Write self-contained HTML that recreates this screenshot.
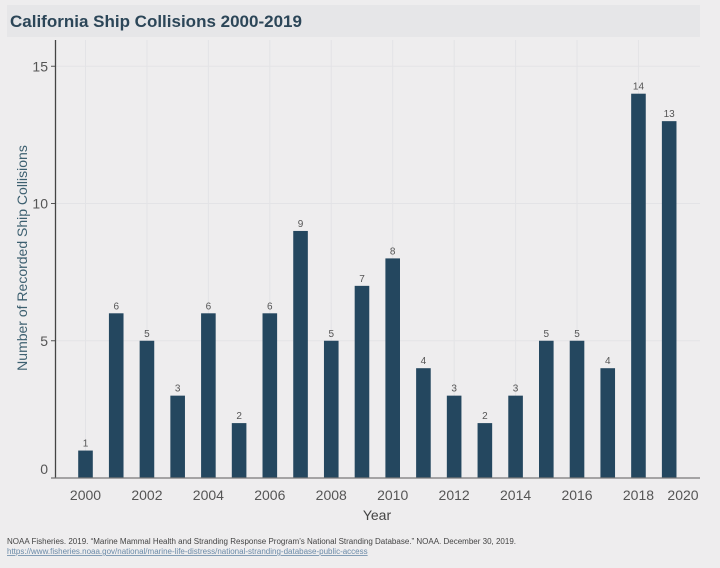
<!DOCTYPE html>
<html><head><meta charset="utf-8"><style>
html,body{margin:0;padding:0;background:#eeedee;}
svg{display:block;font-family:"Liberation Sans",sans-serif;}
</style></head><body>
<svg id="chart" width="720" height="568">
<rect x="0" y="0" width="720" height="568" fill="#eeedee"/>
<rect x="7" y="5" width="693" height="32" fill="#e6e6e8"/>
<text x="10" y="27" font-size="17" font-weight="bold" fill="#2c4658">California Ship Collisions 2000-2019</text>
<g id="grid"></g><g id="bars"></g><g id="axes"></g>
<text transform="translate(27,258) rotate(-90)" text-anchor="middle" font-size="14" fill="#3d6070">Number of Recorded Ship Collisions</text>
<text x="377" y="520" text-anchor="middle" font-size="14" fill="#444">Year</text>
<text x="7" y="544" font-size="8" fill="#444">NOAA Fisheries. 2019. “Marine Mammal Health and Stranding Response Program’s National Stranding Database.” NOAA. December 30, 2019.</text>
<text x="7" y="554" font-size="8" fill="#6a8aa8" text-decoration="underline">https://www.fisheries.noaa.gov/national/marine-life-distress/national-stranding-database-public-access</text>
</svg>
<script>
const years=[2000,2001,2002,2003,2004,2005,2006,2007,2008,2009,2010,2011,2012,2013,2014,2015,2016,2017,2018,2019];
const counts=[1,6,5,3,6,2,6,9,5,7,8,4,3,2,3,5,5,4,14,13];
const yTicks=[0,5,10,15];
const xTicks=[2000,2002,2004,2006,2008,2010,2012,2014,2016,2018,2020];
const NS="http://www.w3.org/2000/svg";
const x=v=>85.5+(v-2000)*30.72;
const y=v=>478-v*27.45;
function mk(tag,attrs,parent,txt){const e=document.createElementNS(NS,tag);for(const k in attrs)e.setAttribute(k,attrs[k]);if(txt!==undefined)e.textContent=txt;parent.appendChild(e);return e;}
const grid=document.getElementById('grid'),bars=document.getElementById('bars'),axes=document.getElementById('axes');
yTicks.forEach(t=>{
  const l=mk('line',{x1:56,x2:700,y1:y(t),y2:y(t),stroke:'#e3e3e6','stroke-width':1},grid);
  
  
  const tk=mk('line',{x1:51,x2:56,y1:y(t),y2:y(t),stroke:'#555'},axes);
  
  
  const lb=mk('text',{x:48,y:(t===0?y(t)-4:y(t)+5),'text-anchor':'end','font-size':14,fill:'#555'},axes,String(t));
  
  
});
xTicks.forEach(t=>{
  const px=x(t);
  if(t<2020){const l=mk('line',{x1:px,x2:px,y1:40,y2:478,stroke:'#e3e3e6'},grid);
  
  }
  const lx=t===2020?683:px;
  const lb=mk('text',{x:lx,y:500,'text-anchor':'middle','font-size':14,fill:'#555'},axes,String(t));
  
  
});
years.forEach((yr,i)=>{
  const v=counts[i],cx=x(yr);
  const r=mk('rect',{x:cx-7.3,y:y(v),width:14.6,height:478-y(v),fill:'#24475f'},bars);
  
  
  const t=mk('text',{x:cx,y:y(v)-4,'text-anchor':'middle','font-size':10,fill:'#555'},bars,String(v));
  
  
});
const ya=mk('line',{x1:55.5,x2:55.5,y1:40,y2:478,stroke:'#444','stroke-width':1.3},axes);


const xa=mk('line',{x1:55,x2:700,y1:478,y2:478,stroke:'#777','stroke-width':1.3},axes);


</script>
</body></html>
